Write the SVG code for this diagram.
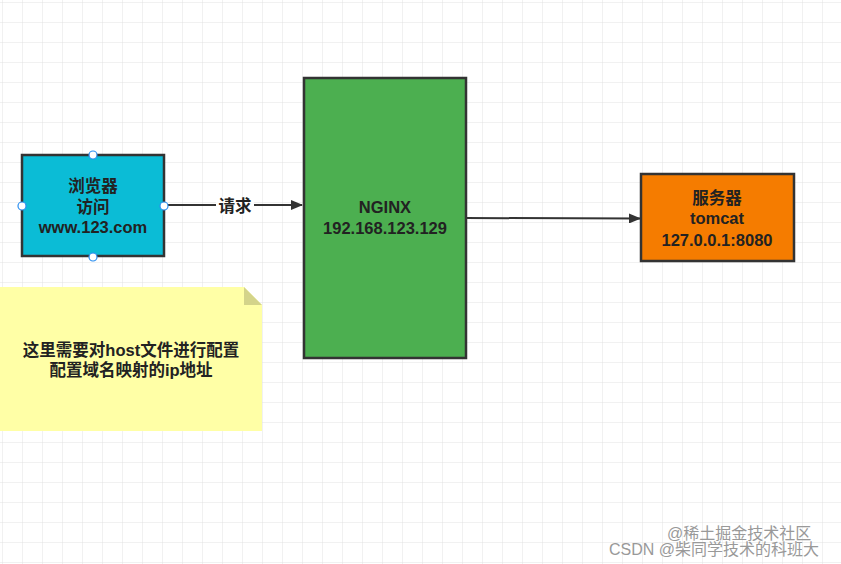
<svg xmlns="http://www.w3.org/2000/svg" width="841" height="564" viewBox="0 0 841 564">
<defs>
<pattern id="g" width="20" height="20" patternUnits="userSpaceOnUse" x="3" y="3"><path d="M20 0V20M0 20H20" fill="none" stroke="#e2e2e2" stroke-width="1"/></pattern>
<marker id="a" markerWidth="12" markerHeight="10" refX="11" refY="5" orient="auto" markerUnits="userSpaceOnUse"><path d="M0 0L12 5L0 10z" fill="#333"/></marker>
<style>
.t{font-family:"Liberation Sans","Noto Sans CJK SC",sans-serif;font-weight:bold;font-size:16.5px;fill:#222;text-anchor:middle}
.b{stroke:#333;stroke-width:2.5}
.h{fill:#fff;stroke:#2a8ef0;stroke-width:1.2}
.w{font-family:"Liberation Sans","Noto Sans CJK SC",sans-serif;font-size:16px;fill:#999}
</style>
</defs>
<rect width="841" height="564" fill="#fff"/>
<rect width="841" height="564" fill="url(#g)"/>
<g id="connectors" stroke="#333" stroke-width="2" fill="none">
<path d="M164 205H302" marker-end="url(#a)"/>
<path d="M466 218L640 218.5" marker-end="url(#a)"/>
</g>
<g id="label"><rect x="216" y="197" width="38" height="18" fill="#fff"/><text class="t" x="235" y="212">请求</text></g>
<g id="browser">
<rect class="b" x="22" y="155" width="142" height="101" fill="#0bbcd6"/>
<text class="t" x="93" y="192">浏览器</text><text class="t" x="93" y="213">访问</text><text class="t" x="93" y="233">www.123.com</text>
<circle class="h" cx="93" cy="155" r="4"/><circle class="h" cx="93" cy="257" r="4"/><circle class="h" cx="22" cy="206" r="4"/><circle class="h" cx="164" cy="206" r="4"/>
</g>
<g id="nginx">
<rect class="b" x="304" y="78" width="162" height="280" fill="#4caf50"/>
<text class="t" x="385" y="213">NGINX</text><text class="t" x="385" y="234">192.168.123.129</text>
</g>
<g id="server">
<rect class="b" x="641" y="174" width="153" height="87" fill="#f57c00"/>
<text class="t" x="717" y="204">服务器</text><text class="t" x="717" y="224">tomcat</text><text class="t" x="717" y="246">127.0.0.1:8080</text>
</g>
<g id="note">
<path d="M0 287H244L262 305V431H0z" fill="#ffffa6"/>
<path d="M244 287V305H262z" fill="#d4d48a"/>
<text class="t" x="131" y="356">这里需要对host文件进行配置</text><text class="t" x="131" y="376">配置域名映射的ip地址</text>
</g>
<g id="watermark"><text class="w" x="667" y="539">@稀土掘金技术社区</text><text class="w" x="609" y="555">CSDN @柴同学技术的科班大</text></g>
</svg>
